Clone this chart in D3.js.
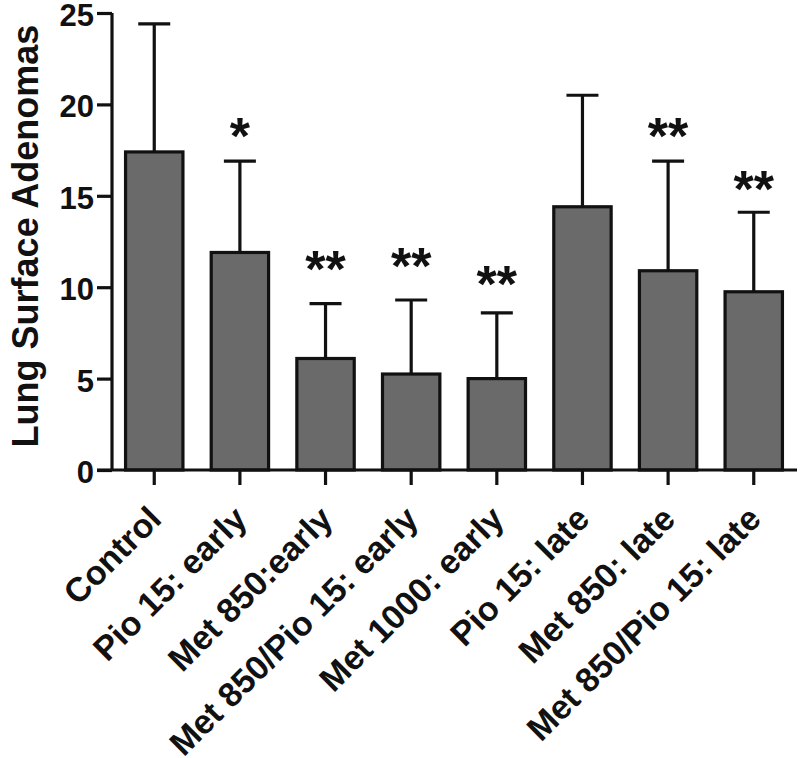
<!DOCTYPE html>
<html>
<head>
<meta charset="utf-8">
<script src="https://cdn.jsdelivr.net/npm/d3@7"></script>
<style>
  html, body { margin: 0; padding: 0; background: #fff; }
  svg { display: block; }
  text { font-family: "Liberation Sans", Arial, Helvetica, sans-serif; font-weight: bold; fill: #111; }
</style>
</head>
<body>
<svg id="chart" width="800" height="758"></svg>
<script>
const categories = ["Control", "Pio 15: early", "Met 850:early", "Met 850/Pio 15: early",
                    "Met 1000: early", "Pio 15: late", "Met 850: late", "Met 850/Pio 15: late"];
const means = [17.4, 11.9, 6.1, 5.25, 5.0, 14.4, 10.9, 9.75];
const errorTops = [24.4, 16.9, 9.1, 9.3, 8.6, 20.5, 16.9, 14.1];
const significance = ["", "*", "**", "**", "**", "", "**", "**"];
const significanceLevel = [0, 18.2, 10.95, 11.1, 10.1, 0, 18.2, 15.3];
const yTicks = [0, 5, 10, 15, 20, 25];
const yTitle = "Lung Surface Adenomas";

const svg = d3.select("#chart");
const x = d3.scaleBand().domain(categories).range([111, 797]).paddingInner(0.33).paddingOuter(0.17);
const y = d3.scaleLinear().domain([0, 25]).range([470, 13]);
const ink = "#111";

// Bars
svg.append("g").selectAll("rect").data(categories).join("rect")
  .attr("x", d => x(d))
  .attr("y", (d, i) => y(means[i]))
  .attr("width", x.bandwidth())
  .attr("height", (d, i) => y(0) - y(means[i]))
  .attr("fill", "#6a6a6a")
  .attr("stroke", ink)
  .attr("stroke-width", 3.2);

// Error bars (upper only)
const eb = svg.append("g").attr("stroke", ink).attr("stroke-width", 3.2);
categories.forEach((c, i) => {
  const cx = x(c) + x.bandwidth() / 2;
  eb.append("line").attr("x1", cx).attr("x2", cx).attr("y1", y(means[i])).attr("y2", y(errorTops[i]));
  eb.append("line").attr("x1", cx - 16).attr("x2", cx + 16).attr("y1", y(errorTops[i])).attr("y2", y(errorTops[i]));
});

// Significance stars
svg.append("g").selectAll("text").data(categories).join("text")
  .attr("x", d => x(d) + x.bandwidth() / 2)
  .attr("y", (d, i) => y(significanceLevel[i]) + 17)
  .attr("text-anchor", "middle")
  .attr("font-size", 52)
  .text((d, i) => significance[i]);

// Y axis
const yAxis = svg.append("g").attr("transform", "translate(112,0)")
  .call(d3.axisLeft(y).tickValues(yTicks).tickSize(15).tickPadding(3).tickFormat(d3.format("d")));
yAxis.select(".domain").attr("stroke", ink).attr("stroke-width", 3.2).attr("d", `M0,${y(25)}V${y(0)}`);
yAxis.selectAll(".tick line").attr("stroke", ink).attr("stroke-width", 3.2);
yAxis.selectAll(".tick text").attr("font-size", 31).attr("font-family", "Liberation Sans, Arial, sans-serif")
  .attr("font-weight", "bold").attr("fill", ink).attr("dy", "0.4em");

// X axis
const xAxis = svg.append("g").attr("transform", "translate(0,470)")
  .call(d3.axisBottom(x).tickSize(15).tickFormat(""));
xAxis.select(".domain").attr("stroke", ink).attr("stroke-width", 3.2).attr("d", "M97,0H797");
xAxis.selectAll(".tick line").attr("stroke", ink).attr("stroke-width", 3.2);

// X labels, rotated
svg.append("g").selectAll("text").data(categories).join("text")
  .attr("transform", d => `translate(${x(d) + x.bandwidth() / 2 + 9},521) rotate(-45)`)
  .attr("text-anchor", "end")
  .attr("font-size", 34)
  .text(d => d);

// Y title
svg.append("text")
  .attr("transform", `translate(38,236) rotate(-90)`)
  .attr("text-anchor", "middle")
  .attr("font-size", 36)
  .text(yTitle);
</script>
</body>
</html>
